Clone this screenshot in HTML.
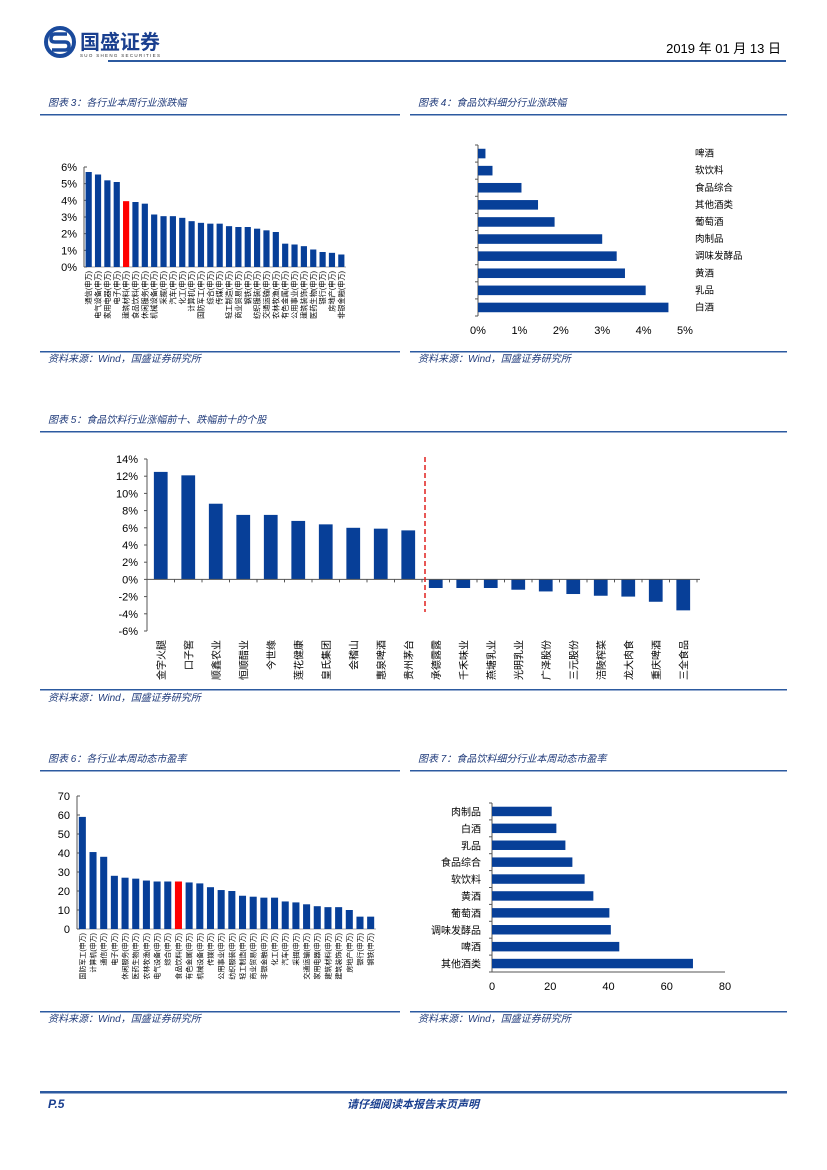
<!DOCTYPE html>
<html><head><meta charset="utf-8">
<style>
html,body{margin:0;padding:0;background:#fff;}
svg{display:block;font-family:"Liberation Sans","Noto Sans CJK SC",sans-serif;}
.cap{font-size:10px;font-style:italic;fill:#1f3a7a;}
.src{font-size:10px;font-style:italic;fill:#1f3a7a;}
.tk{font-size:11px;fill:#000;}
</style></head>
<body>
<svg id="page" width="827" height="1170" viewBox="0 0 827 1170" xmlns="http://www.w3.org/2000/svg">
  <g>
    <circle cx="60" cy="42" r="14" fill="none" stroke="#1a4a9c" stroke-width="4"/>
    <path d="M67 34 H55 Q51 34 51 39 Q51 42 55 42 H65 Q69 42 69 46 Q69 50 65 50 H52" fill="none" stroke="#1a4a9c" stroke-width="3.5"/>
    <text x="80" y="49" font-size="20" font-weight="bold" fill="#1a3f8f">国盛证券</text>
    <text x="80" y="57" font-size="4.5" fill="#333" letter-spacing="1.3">SUO SHENG SECURITIES</text>
    <text x="781" y="53" font-size="13" text-anchor="end" fill="#000">2019 年 01 月 13 日</text>
    <rect x="108" y="60" width="678" height="2" fill="#2c5aa0"/>
  </g>

  <text class="cap" x="48" y="106">图表 3：各行业本周行业涨跌幅</text>
  <rect x="40" y="114" width="360" height="1.5" fill="#2c5aa0"/>
  <text class="cap" x="418" y="106">图表 4：食品饮料细分行业涨跌幅</text>
  <rect x="410" y="114" width="377" height="1.5" fill="#2c5aa0"/>
  <g id="c3"></g>
  <g id="c4"></g>
  <rect x="40" y="351" width="360" height="1.5" fill="#2c5aa0"/>
  <rect x="410" y="351" width="377" height="1.5" fill="#2c5aa0"/>
  <text class="src" x="48" y="362">资料来源：Wind，国盛证券研究所</text>
  <text class="src" x="418" y="362">资料来源：Wind，国盛证券研究所</text>

  <text class="cap" x="48" y="423">图表 5：食品饮料行业涨幅前十、跌幅前十的个股</text>
  <rect x="40" y="431" width="747" height="1.5" fill="#2c5aa0"/>
  <g id="c5"></g>
  <rect x="40" y="689" width="747" height="1.5" fill="#2c5aa0"/>
  <text class="src" x="48" y="701">资料来源：Wind，国盛证券研究所</text>

  <text class="cap" x="48" y="762">图表 6：各行业本周动态市盈率</text>
  <rect x="40" y="770" width="360" height="1.5" fill="#2c5aa0"/>
  <text class="cap" x="418" y="762">图表 7：食品饮料细分行业本周动态市盈率</text>
  <rect x="410" y="770" width="377" height="1.5" fill="#2c5aa0"/>
  <g id="c6"></g>
  <g id="c7"></g>
  <rect x="40" y="1011" width="360" height="1.5" fill="#2c5aa0"/>
  <rect x="410" y="1011" width="377" height="1.5" fill="#2c5aa0"/>
  <text class="src" x="48" y="1022">资料来源：Wind，国盛证券研究所</text>
  <text class="src" x="418" y="1022">资料来源：Wind，国盛证券研究所</text>

  <rect x="40" y="1091" width="747" height="2.5" fill="#2c5aa0"/>
  <text x="48" y="1108" font-size="12" font-weight="bold" font-style="italic" fill="#1a3f8f">P.5</text>
  <text x="413" y="1108" font-size="11" font-weight="bold" font-style="italic" text-anchor="middle" fill="#1a3f8f">请仔细阅读本报告末页声明</text>
</svg>
<script>
// ---------- data ----------
const c3Cats = ["通信","电气设备","家用电器","电子","建筑材料","食品饮料","休闲服务","机械设备","采掘","汽车","化工","计算机","国防军工","综合","传媒","轻工制造","商业贸易","钢铁","纺织服装","交通运输","农林牧渔","有色金属","公用事业","建筑装饰","医药生物","银行","房地产","非银金融"];
const c3Vals = [5.7,5.55,5.2,5.1,3.95,3.9,3.8,3.15,3.05,3.05,2.95,2.75,2.65,2.6,2.6,2.45,2.4,2.4,2.3,2.2,2.1,1.4,1.35,1.25,1.05,0.9,0.85,0.75];
const c3Ticks = [0,1,2,3,4,5,6];
const c3Highlight = "建筑材料";

const c4Cats = ["啤酒","软饮料","食品综合","其他酒类","葡萄酒","肉制品","调味发酵品","黄酒","乳品","白酒"];
const c4Vals = [0.18,0.35,1.05,1.45,1.85,3.0,3.35,3.55,4.05,4.6];
const c4Ticks = [0,1,2,3,4,5];

const c5Cats = ["金字火腿","口子窖","顺鑫农业","恒顺醋业","今世缘","莲花健康","皇氏集团","会稽山","惠泉啤酒","贵州茅台","承德露露","千禾味业","燕塘乳业","光明乳业","广泽股份","三元股份","涪陵榨菜","龙大肉食","重庆啤酒","三全食品"];
const c5Vals = [12.5,12.1,8.8,7.5,7.5,6.8,6.4,6.0,5.9,5.7,-1.0,-1.0,-1.0,-1.2,-1.4,-1.7,-1.9,-2.0,-2.6,-3.6];
const c5Ticks = [-6,-4,-2,0,2,4,6,8,10,12,14];

const c6Cats = ["国防军工","计算机","通信","电子","休闲服务","医药生物","农林牧渔","电气设备","综合","食品饮料","有色金属","机械设备","传媒","公用事业","纺织服装","轻工制造","商业贸易","非银金融","化工","汽车","采掘","交通运输","家用电器","建筑材料","建筑装饰","房地产","银行","钢铁"];
const c6Vals = [59,40.5,38,28,27,26.5,25.5,25,25,25,24.5,24,22,20.5,20,17.5,17,16.5,16.5,14.5,14,13,12,11.5,11.5,10,6.5,6.5];
const c6Ticks = [0,10,20,30,40,50,60,70];
const c6Highlight = "食品饮料";

const c7Cats = ["肉制品","白酒","乳品","食品综合","软饮料","黄酒","葡萄酒","调味发酵品","啤酒","其他酒类"];
const c7Vals = [20.5,22.1,25.2,27.6,31.8,34.8,40.3,40.8,43.7,69.0];
const c7Ticks = [0,20,40,60,80];

const NS = "http://www.w3.org/2000/svg";
const BLUE = "#073f98";
function mk(parent, tag, attrs, txt){
  const el = document.createElementNS(NS, tag);
  for (const k in attrs) el.setAttribute(k, attrs[k]);
  if (txt !== undefined) el.textContent = txt;
  parent.appendChild(el);
  return el;
}

function columnChart(g, cats, vals, ticks, fmt, x0, x1, yZero, yTop, hl, prefix, labelSize){
  const vmin = ticks[0], vmax = ticks[ticks.length-1];
  const y = v => yZero - (v - vmin) / (vmax - vmin) * (yZero - yTop);
  const step = (x1 - x0) / cats.length;
  const xc = i => x0 + step * (i + 0.5);
  const ax = mk(g, "line", {x1:x0, y1:yTop, x2:x0, y2:yZero, stroke:"#555", "stroke-width":1});
  
  
  const bx = mk(g, "line", {x1:x0, y1:yZero, x2:x1, y2:yZero, stroke:"#aaa", "stroke-width":1});
  
  
  ticks.forEach(t => {
    const tl = mk(g, "text", {x:x0 - 7, y:y(t) + 4, "text-anchor":"end", class:"tk"}, fmt(t));
    
    
    const tm = mk(g, "line", {x1:x0, y1:y(t), x2:x0 + 3, y2:y(t), stroke:"#555"});
    
    
  });
  cats.forEach((c, i) => {
    const bw = step * 0.66;
    const b = mk(g, "rect", {x:xc(i) - bw/2, y:y(vals[i]), width:bw, height:yZero - y(vals[i]), fill: c === hl ? "#ff0000" : BLUE});
    
    
    const lx = xc(i) + labelSize * 0.35, ly = yZero + 4;
    const l = mk(g, "text", {x:lx, y:ly, "text-anchor":"end", "font-size":labelSize, fill:"#000", transform:`rotate(-90 ${lx} ${ly})`}, c + "(申万)");
    
    
  });
}
columnChart(document.getElementById("c3"), c3Cats, c3Vals, c3Ticks, t => t + "%", 84, 346, 267, 167, c3Highlight, "chart3", 7.2);
columnChart(document.getElementById("c6"), c6Cats, c6Vals, c6Ticks, t => "" + t, 77, 376, 929, 796, c6Highlight, "chart6", 7);

function barChart(g, cats, vals, ticks, fmt, x0, x1, yTop, yBot, labelSide, prefix){
  const vmax = ticks[ticks.length-1];
  const x = v => x0 + v / vmax * (x1 - x0);
  const step = (yBot - yTop) / cats.length;
  const yc = i => yTop + step * (i + 0.5);
  const ax = mk(g, "line", {x1:x0, y1:yTop, x2:x0, y2:yBot, stroke:"#555"});
  
  
  if (labelSide === "left") {
    const bx = mk(g, "line", {x1:x0, y1:yBot, x2:x1, y2:yBot, stroke:"#555"});
    
    
  }
  for (let i = 0; i <= cats.length; i++) {
    const tm = mk(g, "line", {x1:x0 - 3, y1:yTop + step * i, x2:x0, y2:yTop + step * i, stroke:"#555"});
    
    
  }
  ticks.forEach(t => {
    const tl = mk(g, "text", {x:x(t), y:yBot + 18, "text-anchor":"middle", class:"tk"}, fmt(t));
    
    
  });
  cats.forEach((c, i) => {
    const bh = step * 0.56;
    const b = mk(g, "rect", {x:x0, y:yc(i) - bh/2, width:x(vals[i]) - x0, height:bh, fill:BLUE});
    
    
    const l = labelSide === "left"
      ? mk(g, "text", {x:x0 - 11, y:yc(i) + 4, "text-anchor":"end", "font-size":10, fill:"#000"}, c)
      : mk(g, "text", {x:695, y:yc(i) + 3, "text-anchor":"start", "font-size":9.5, fill:"#000"}, c);
    
    
  });
}
barChart(document.getElementById("c4"), c4Cats, c4Vals, c4Ticks, t => t + "%", 478, 685, 145, 316, "right", "chart4");
barChart(document.getElementById("c7"), c7Cats, c7Vals, c7Ticks, t => "" + t, 492, 725, 803, 972, "left", "chart7");

(function(){
  const g = document.getElementById("c5");
  const x0 = 147, x1 = 697, yTop = 459, yBot = 631;
  const vmin = c5Ticks[0], vmax = c5Ticks[c5Ticks.length-1];
  const y = v => yBot - (v - vmin) / (vmax - vmin) * (yBot - yTop);
  const step = (x1 - x0) / c5Cats.length;
  const xc = i => x0 + step * (i + 0.5);
  const ax = mk(g, "line", {x1:x0, y1:yTop, x2:x0, y2:yBot, stroke:"#555"});
  
  
  c5Ticks.forEach(t => {
    const tl = mk(g, "text", {x:x0 - 9, y:y(t) + 4, "text-anchor":"end", class:"tk"}, t + "%");
    
    
    const tm = mk(g, "line", {x1:x0 - 3, y1:y(t), x2:x0, y2:y(t), stroke:"#555"});
    
    
  });
  c5Cats.forEach((c, i) => {
    const bw = step * 0.5;
    const top = Math.min(y(c5Vals[i]), y(0)), h = Math.abs(y(c5Vals[i]) - y(0));
    const b = mk(g, "rect", {x:xc(i) - bw/2, y:top, width:bw, height:h, fill:BLUE});
    
    
    const lx = xc(i) + 4, ly = 640;
    const l = mk(g, "text", {x:lx, y:ly, "text-anchor":"end", "font-size":10, fill:"#000", transform:`rotate(-90 ${lx} ${ly})`}, c);
    
    
  });
  const zx = mk(g, "line", {x1:x0, y1:y(0), x2:x1 + 3, y2:y(0), stroke:"#555"});
  
  
  for (let i = 0; i <= c5Cats.length; i++) {
    const tm = mk(g, "line", {x1:x0 + step * i, y1:y(0), x2:x0 + step * i, y2:y(0) + 3, stroke:"#555"});
    
    
  }
  const dx = x0 + step * 10 + 3;
  const d = mk(g, "line", {x1:dx, y1:457, x2:dx, y2:612, stroke:"#e0201e", "stroke-width":1.5, "stroke-dasharray":"5,3"});
  
  
})();
</script>
</body></html>
